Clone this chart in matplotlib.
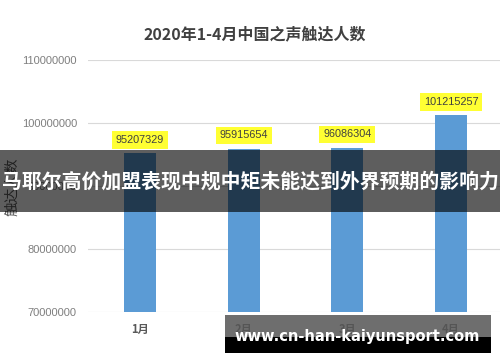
import matplotlib.pyplot as plt
from matplotlib.patches import Rectangle

plt.rcParams['font.family'] = ['Noto Sans CJK SC', 'DejaVu Sans']

months = ["1月", "2月", "3月", "4月"]
reach = [95207329, 95915654, 96086304, 101215257]
y_ticks = [70000000, 80000000, 90000000, 100000000, 110000000]

title = "2020年1-4月中国之声触达人数"
y_label = "触达人数"
banner = "马耶尔高价加盟表现中规中矩未能达到外界预期的影响力"
watermark = "www.cn-han-kaiyunsport.com"

fig = plt.figure(figsize=(5, 3.62), dpi=100)
ax = fig.add_axes([0.176, 0.138, 0.83, 0.696])

x = range(len(months))
ax.bar(x, reach, width=0.31, color="#5B9BD5", zorder=2)
for xi, v in zip(x, reach):
    ax.annotate(str(v), (xi, v), xytext=(0, 6), textcoords="offset points",
                ha="center", va="bottom", fontsize=7.8, color="#404040",
                family=["Liberation Sans"],
                bbox=dict(boxstyle="square,pad=0.35", fc="#FFFF33", ec="none"))

ax.set_xlim(-0.5, 3.5)
ax.set_ylim(70000000, 110000000)
ax.set_yticks(y_ticks)
ax.set_yticklabels([str(t) for t in y_ticks], family=["Liberation Sans"],
                   fontsize=8, color="#7f7f7f")
ax.set_xticks(list(x))
ax.set_xticklabels(months, fontsize=8, color="#595959", fontweight="bold")
ax.tick_params(length=0, pad=8)
ax.yaxis.grid(True, color="#d9d9d9", lw=0.8, zorder=0)
for s in ax.spines.values():
    s.set_visible(False)

fig.text(0.51, 0.906, title, ha="center", va="center", fontsize=11.5,
         fontweight="bold", color="#404040")
fig.text(0.024, 0.485, y_label, ha="center", va="center", rotation=90,
         fontsize=10.5, color="#595959")

# overlay banner
fig.patches.append(Rectangle((0, 1 - 212 / 362), 1, 62 / 362, transform=fig.transFigure,
                             fc="black", alpha=0.63, ec="none", zorder=5))
fig.text(0.5, 1 - 181 / 362, banner, ha="center", va="center", fontsize=14.3,
         fontweight="bold", color="white", zorder=6)

# watermark
fig.patches.append(Rectangle((225 / 500, 1 - 353 / 362), 266 / 500, 38 / 362,
                             transform=fig.transFigure, fc="#555555", alpha=0.85,
                             ec="none", zorder=5))
fig.patches.append(Rectangle((225 / 500, 1 - 353 / 362), 266 / 500, 16 / 362,
                             transform=fig.transFigure, fc="black", ec="none", zorder=5))
fig.text(357 / 500, 1 - 336 / 362, watermark, ha="center", va="center", fontsize=10.5,
         fontweight="bold", color="white", family=["DejaVu Sans"], zorder=6)

fig.savefig("out.png", dpi=100)
